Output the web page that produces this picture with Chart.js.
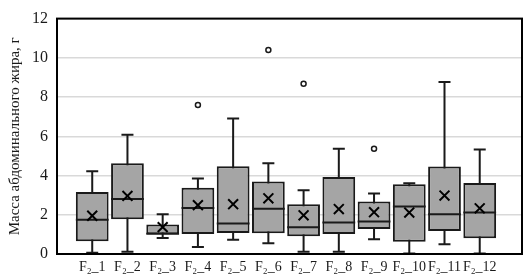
<!DOCTYPE html>
<html>
<head>
<meta charset="utf-8">
<script src="https://cdn.jsdelivr.net/npm/chart.js@4"></script>
<style>
  html, body { margin: 0; padding: 0; background: #fff; }
  #wrap { width: 531px; height: 280px; }
</style>
</head>
<body>
<div id="wrap"><canvas id="chart" width="531" height="280"></canvas></div>
<script>
const categories = ['F₂_1', 'F₂_2', 'F₂_3', 'F₂_4', 'F₂_5', 'F₂_6', 'F₂_7', 'F₂_8', 'F₂_9', 'F₂_10', 'F₂_11', 'F₂_12'];
const whiskerLow = [0.06, 0.11, 0.81, 0.36, 0.73, 0.55, 0.11, 0.11, 0.75, 0.03, 0.5, 0.03];
const q1 = [0.65, 1.77, 1.01, 1.02, 1.07, 1.06, 0.91, 1.02, 1.28, 0.62, 1.17, 0.8];
const medians = [1.75, 2.8, 1.03, 2.34, 1.55, 2.31, 1.37, 1.61, 1.66, 2.42, 2.02, 2.11];
const q3 = [3.16, 4.62, 1.51, 3.38, 4.47, 3.69, 2.54, 3.92, 2.68, 3.55, 4.46, 3.62];
const whiskerHigh = [4.22, 6.08, 2.03, 3.85, 6.91, 4.62, 3.25, 5.37, 3.09, 3.61, 8.77, 5.33];
const means = [1.95, 2.96, 1.37, 2.49, 2.54, 2.84, 1.97, 2.29, 2.13, 2.11, 2.98, 2.33];
const outlierIndex = [3, 5, 6, 8];
const outlierValues = [7.6, 10.4, 8.68, 5.37];
const yTicks = [0, 2, 4, 6, 8, 10, 12];

const FONT = "'Liberation Serif', 'Times New Roman', serif";
const INK = '#1a1a1a';

// whiskers, caps and medians drawn on top of the library's scales
const boxExtras = {
  id: 'boxExtras',
  beforeDatasetsDraw(chart) {
    const { ctx, scales: { x, y } } = chart;
    ctx.save();
    ctx.strokeStyle = INK;
    ctx.lineWidth = 2;
    categories.forEach((c, i) => {
      const px = x.getPixelForValue(i);
      const top = y.getPixelForValue(whiskerHigh[i]);
      const bot = y.getPixelForValue(whiskerLow[i]);
      ctx.beginPath();
      ctx.moveTo(px, top); ctx.lineTo(px, bot);
      ctx.moveTo(px - 6, top); ctx.lineTo(px + 6, top);
      ctx.moveTo(px - 6, bot); ctx.lineTo(px + 6, bot);
      ctx.stroke();
    });
    ctx.restore();
  },
  afterDatasetDraw(chart, args) {
    if (args.index !== 0) return;
    const { ctx, scales: { y } } = chart;
    const meta = chart.getDatasetMeta(0);
    ctx.save();
    ctx.strokeStyle = INK;
    ctx.lineWidth = 2;
    meta.data.forEach((bar, i) => {
      const py = y.getPixelForValue(medians[i]);
      ctx.beginPath();
      ctx.moveTo(bar.x - bar.width / 2, py);
      ctx.lineTo(bar.x + bar.width / 2, py);
      ctx.stroke();
    });
    ctx.restore();
  },
  afterDatasetsDraw(chart) {
    const { ctx, chartArea: a } = chart;
    ctx.save();
    ctx.strokeStyle = '#000';
    ctx.lineWidth = 2;
    ctx.strokeRect(a.left, a.top, a.right - a.left, a.bottom - a.top);
    ctx.restore();
  }
};

new Chart(document.getElementById('chart'), {
  type: 'bar',
  data: {
    datasets: [
      {
        type: 'bar',
        data: categories.map((c, i) => ({ x: i, y: [q1[i], q3[i]] })),
        backgroundColor: '#a5a5a5',
        borderColor: INK,
        borderWidth: 2,
        borderSkipped: false,
        barPercentage: 1,
        categoryPercentage: 0.93,
        order: 2
      },
      {
        type: 'scatter',
        data: means.map((v, i) => ({ x: i, y: v })),
        pointStyle: 'crossRot',
        pointRadius: 7,
        borderColor: '#000',
        borderWidth: 2,
        order: 1
      },
      {
        type: 'scatter',
        data: outlierValues.map((v, k) => ({ x: outlierIndex[k], y: v })),
        pointStyle: 'circle',
        pointRadius: 2.5,
        backgroundColor: '#fff',
        borderColor: INK,
        borderWidth: 1.5,
        order: 0
      }
    ]
  },
  options: {
    responsive: false,
    animation: false,
    devicePixelRatio: 1,
    layout: { padding: { top: 8, right: 8, bottom: 0, left: 0 } },
    plugins: { legend: { display: false }, tooltip: { enabled: false } },
    scales: {
      x: {
        type: 'linear',
        offset: false,
        min: -1,
        max: 12.2,
        afterBuildTicks: (s) => { s.ticks = categories.map((c, i) => ({ value: i })); },
        afterFit: (s) => { s.height = 26; },
        grid: { display: false, drawTicks: false },
        border: { display: false },
        ticks: {
          autoSkip: false,
          maxRotation: 0,
          padding: 5,
          color: INK,
          font: { family: FONT, size: 14 },
          callback: (v) => categories[v] ?? ''
        }
      },
      y: {
        min: 0,
        max: 12,
        afterBuildTicks: (s) => { s.ticks = yTicks.map(v => ({ value: v })); },
        afterFit: (s) => { s.width = 57; },
        grid: { color: '#d9d9d9', lineWidth: 1.5, drawTicks: false },
        border: { display: false },
        ticks: { padding: 9, color: INK, font: { family: FONT, size: 16 } },
        title: {
          display: true,
          text: 'Масса абдоминального жира, г',
          color: INK,
          font: { family: FONT, size: 15 },
          padding: { top: 6, bottom: 0 }
        }
      }
    }
  },
  plugins: [boxExtras]
});
</script>
</body>
</html>
